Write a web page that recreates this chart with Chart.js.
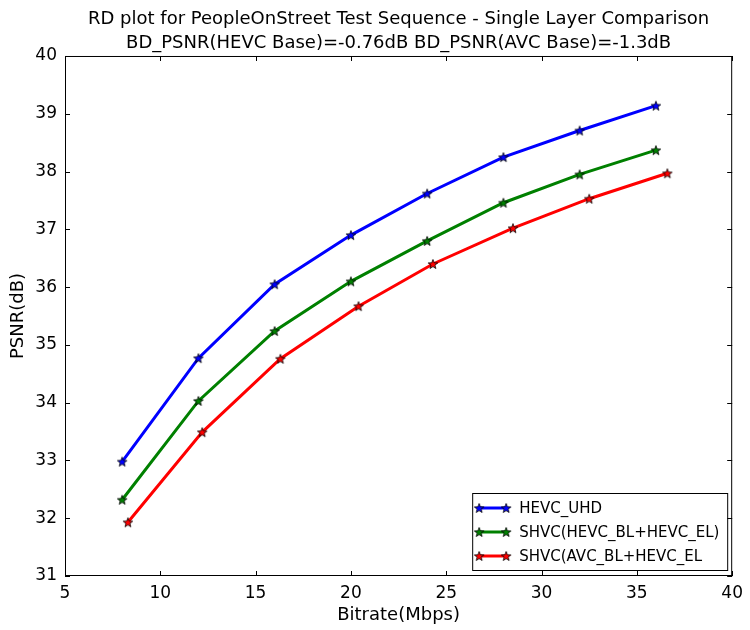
<!DOCTYPE html>
<html>
<head>
<meta charset="utf-8">
<script src="https://cdn.jsdelivr.net/npm/chart.js@4.4.0/dist/chart.umd.min.js"></script>
<style>
  html, body { margin: 0; padding: 0; background: #fff; }
  #wrap { width: 750px; height: 630px; }
</style>
</head>
<body>
<div id="wrap"><canvas id="rdChart"></canvas></div>
<script>
// RD curve data
const hevcRate = [8, 12, 16, 20, 24, 28, 32, 36];
const hevcPsnr = [32.98, 34.77, 36.05, 36.90, 37.62, 38.25, 38.71, 39.14];

const shvcHevcRate = [8, 12, 16, 20, 24, 28, 32, 36];
const shvcHevcPsnr = [32.32, 34.03, 35.24, 36.10, 36.80, 37.46, 37.95, 38.37];

const shvcAvcRate = [8.3, 12.2, 16.3, 20.4, 24.3, 28.5, 32.5, 36.6];
const shvcAvcPsnr = [31.93, 33.49, 34.76, 35.67, 36.40, 37.02, 37.53, 37.97];

const seriesNames = ['HEVC_UHD', 'SHVC(HEVC_BL+HEVC_EL)', 'SHVC(AVC_BL+HEVC_EL'];
const seriesColors = ['#0000ff', '#008000', '#ff0000'];

const xTicks = [5, 10, 15, 20, 25, 30, 35, 40];
const yTicks = [31, 32, 33, 34, 35, 36, 37, 38, 39, 40];

const titleLines = [
    'RD plot for PeopleOnStreet Test Sequence - Single Layer Comparison',
    'BD_PSNR(HEVC Base)=-0.76dB BD_PSNR(AVC Base)=-1.3dB'
];

const FONT = "'DejaVu Sans', sans-serif";

// filled five point star like matplotlib's '*' marker
function makeStar(color, size) {
    const c = document.createElement('canvas');
    c.width = size; c.height = size;
    const g = c.getContext('2d');
    const cx = size / 2, cy = size / 2 + 0.5;
    const outer = size / 2 - 1, inner = outer * 0.42;
    g.beginPath();
    for (let i = 0; i < 10; i++) {
        const r = i % 2 === 0 ? outer : inner;
        const a = -Math.PI / 2 + i * Math.PI / 5;
        const px = cx + r * Math.cos(a), py = cy + r * Math.sin(a);
        if (i === 0) g.moveTo(px, py); else g.lineTo(px, py);
    }
    g.closePath();
    g.fillStyle = color;
    g.fill();
    g.lineWidth = 0.8;
    g.strokeStyle = '#000';
    g.stroke();
    return c;
}

const stars = seriesColors.map(c => makeStar(c, 12));

function toPoints(xs, ys) {
    return xs.map((x, i) => ({ x: x, y: ys[i] }));
}

// frame, inward ticks on all four sides, legend box
const classicAxes = {
    id: 'classicAxes',
    afterDatasetsDraw(chart) {
        const ctx = chart.ctx;
        const a = chart.chartArea;
        const xs = chart.scales.x, ys = chart.scales.y;
        ctx.save();
        ctx.strokeStyle = '#000';
        ctx.lineWidth = 1;
        ctx.strokeRect(a.left + 0.5, a.top + 0.5, a.right - a.left - 1, a.bottom - a.top - 1);
        ctx.beginPath();
        const tl = 5;
        xTicks.forEach(v => {
            const px = Math.round(xs.getPixelForValue(v)) + 0.5;
            ctx.moveTo(px, a.bottom); ctx.lineTo(px, a.bottom - tl);
            ctx.moveTo(px, a.top); ctx.lineTo(px, a.top + tl);
        });
        yTicks.forEach(v => {
            const py = Math.round(ys.getPixelForValue(v)) + 0.5;
            ctx.moveTo(a.left, py); ctx.lineTo(a.left + tl, py);
            ctx.moveTo(a.right, py); ctx.lineTo(a.right - tl, py);
        });
        ctx.stroke();

        // legend, lower right inside the axes
        const boxW = 255, boxH = 77;
        const bx = a.right - 5 - boxW, by = a.bottom - 6 - boxH;
        ctx.fillStyle = '#fff';
        ctx.fillRect(bx, by, boxW, boxH);
        ctx.strokeRect(bx + 0.5, by + 0.5, boxW, boxH);
        ctx.font = '15px ' + FONT;
        ctx.textBaseline = 'middle';
        ctx.textAlign = 'left';
        chart.data.datasets.forEach((ds, i) => {
            const ly = by + 15 + i * 24;
            const x0 = bx + 7, x1 = bx + 34;
            ctx.strokeStyle = ds.borderColor;
            ctx.lineWidth = 3;
            ctx.beginPath();
            ctx.moveTo(x0, ly); ctx.lineTo(x1, ly);
            ctx.stroke();
            ctx.drawImage(stars[i], x0 - 6, ly - 6);
            ctx.drawImage(stars[i], x1 - 6, ly - 6);
            ctx.fillStyle = '#000';
            ctx.fillText(ds.label, bx + 47, ly + 1);
        });
        ctx.restore();
    }
};

const datasets = [
    { label: seriesNames[0], data: toPoints(hevcRate, hevcPsnr) },
    { label: seriesNames[1], data: toPoints(shvcHevcRate, shvcHevcPsnr) },
    { label: seriesNames[2], data: toPoints(shvcAvcRate, shvcAvcPsnr) }
].map((d, i) => Object.assign(d, {
    borderColor: seriesColors[i],
    backgroundColor: seriesColors[i],
    borderWidth: 3,
    pointStyle: stars[i],
    pointRadius: 6,
    pointHoverRadius: 6,
    tension: 0,
    showLine: true
}));

new Chart(document.getElementById('rdChart'), {
    type: 'scatter',
    data: { datasets: datasets },
    options: {
        responsive: true,
        maintainAspectRatio: false,
        animation: false,
        layout: { padding: { left: 0, right: 12, top: 0, bottom: 0 } },
        plugins: {
            legend: { display: false },
            tooltip: { enabled: false },
            title: {
                display: true,
                fullSize: false,
                text: titleLines,
                color: '#000',
                font: { family: FONT, size: 18, weight: 'normal', lineHeight: 1.333 },
                padding: { top: 7, bottom: 1 }
            }
        },
        scales: {
            x: {
                type: 'linear',
                min: 5, max: 40,
                afterBuildTicks: s => { s.ticks = xTicks.map(v => ({ value: v })); },
                afterFit: s => { s.height = 54; },
                grid: { display: false, drawTicks: false },
                border: { display: false },
                ticks: { color: '#000', font: { family: FONT, size: 17 }, padding: 7 },
                title: { display: true, text: 'Bitrate(Mbps)', color: '#000', font: { family: FONT, size: 18 }, padding: { top: 2, bottom: 4 } }
            },
            y: {
                type: 'linear',
                min: 31, max: 40,
                afterBuildTicks: s => { s.ticks = yTicks.map(v => ({ value: v })); },
                afterFit: s => { s.width = 65; },
                grid: { display: false, drawTicks: false },
                border: { display: false },
                ticks: { color: '#000', font: { family: FONT, size: 17 }, padding: 8 },
                title: { display: true, text: 'PSNR(dB)', color: '#000', font: { family: FONT, size: 18 }, padding: { top: 8, bottom: 0 } }
            }
        }
    },
    plugins: [classicAxes]
});
</script>
</body>
</html>
